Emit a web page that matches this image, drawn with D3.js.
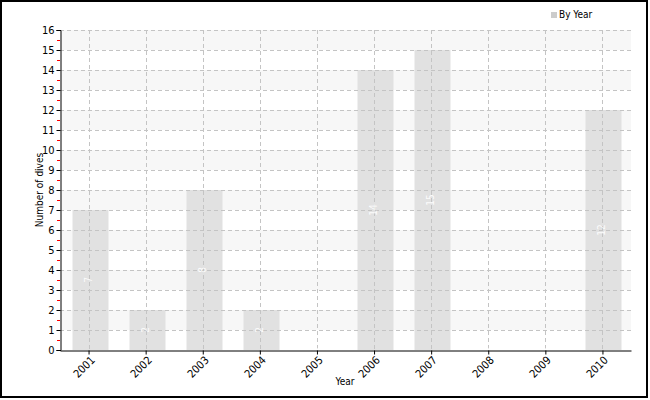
<!DOCTYPE html>
<html><head><meta charset="utf-8">
<script src="https://cdn.jsdelivr.net/npm/d3@7"></script>
<style>body{margin:0;background:#fff;} text{font-family:"DejaVu Sans Condensed","DejaVu Sans",sans-serif;}</style>
</head><body><svg id="c" width="650" height="400"></svg>
<script>
const categories = ["2001","2002","2003","2004","2005","2006","2007","2008","2009","2010"];
const values = [7,2,8,2,0,14,15,0,0,12];
const yTicks = d3.range(0,17);
const seriesName = "By Year";

const svg = d3.select("#c");
const m = {l:60, r:19, t:30, b:50};
const W = 650, H = 400;
const FS = 10;
const x = d3.scaleBand().domain(categories).range([m.l, W-m.r]).padding(0);
const y = d3.scaleLinear().domain([0,16]).range([H-m.b, m.t]);
const cx = d => Math.round(x(d)+x.bandwidth()/2);

svg.append("rect").attr("x",1).attr("y",1).attr("width",646).attr("height",396)
  .attr("fill","#fff").attr("stroke","#000").attr("stroke-width",2);

// alternating bands
const bands = d3.range(1,16,2);
svg.append("g").selectAll("rect").data(bands).join("rect")
  .attr("x", m.l).attr("width", W-m.r-m.l)
  .attr("y", d=>y(d+1)).attr("height", d=>y(d)-y(d+1))
  .attr("fill","#f7f7f7");

// bars
const bw = 36;
svg.append("g").selectAll("rect").data(values).join("rect")
  .attr("x",(d,i)=>cx(categories[i])-bw/2+1.5)
  .attr("width",bw)
  .attr("y",d=>y(d)).attr("height",d=>y(0)-y(d))
  .attr("fill","#e1e1e1");

// grid lines
const grid = svg.append("g").attr("stroke","#c4c4c4").attr("stroke-dasharray","4,3").attr("stroke-width",1);
grid.selectAll("line.h").data(yTicks.filter(d=>d>0)).join("line")
  .attr("x1",m.l).attr("x2",W-m.r)
  .attr("y1",d=>Math.round(y(d))+0.5).attr("y2",d=>Math.round(y(d))+0.5);
grid.selectAll("line.v").data(categories).join("line")
  .attr("x1",d=>cx(d)+0.5).attr("x2",d=>cx(d)+0.5)
  .attr("y1",m.t).attr("y2",H-m.b);

// value labels
svg.append("g").selectAll("text").data(values).join("text")
  .attr("transform",(d,i)=>`translate(${cx(categories[i])+3},${(y(0)+y(d))/2}) rotate(-90)`)
  .attr("text-anchor","middle").attr("font-size",FS).attr("fill","#fff").attr("fill-opacity",0.9)
  .text(d=>d);

// minor red ticks
svg.append("g").selectAll("line").data(d3.range(0.5,16,1)).join("line")
  .attr("x1",m.l-3).attr("x2",m.l)
  .attr("y1",d=>Math.round(y(d))+0.5).attr("y2",d=>Math.round(y(d))+0.5)
  .attr("stroke","red");

// axes
const yAxis = svg.append("g").attr("transform",`translate(${m.l+0.5},0)`)
  .call(d3.axisLeft(y).tickValues(yTicks).tickSize(4).tickPadding(2).tickFormat(d3.format("d")));
yAxis.selectAll("text").attr("font-size",11).attr("fill","#000")
  .style("font-family","'DejaVu Sans Condensed','DejaVu Sans',sans-serif");
yAxis.select(".domain").attr("stroke","#000");

const xAxis = svg.append("g").attr("transform",`translate(0,${H-m.b+0.5})`)
  .call(d3.axisBottom(x).tickSize(4).tickSizeOuter(0).tickFormat(""));
xAxis.selectAll(".tick line").attr("transform","translate(0.5,0)");
xAxis.select(".domain").attr("stroke","#000");

// x tick labels, rotated 45 degrees
const c45 = Math.SQRT1_2;
svg.append("g").selectAll("text").data(categories).join("text")
  .attr("transform",d=>`matrix(${c45},${-c45},${c45},${c45},${cx(d)+4},${H-m.b+8})`)
  .attr("text-anchor","end").attr("dy","0.35em").attr("font-size",11).attr("fill","#000")
  .text(d=>d);

// titles
svg.append("text").attr("x",345).attr("y",385).attr("text-anchor","middle")
  .attr("font-size",FS).text("Year");
svg.append("text").attr("transform",`translate(43,${(m.t+H-m.b)/2}) rotate(-90)`)
  .attr("text-anchor","middle").attr("font-size",FS).text("Number of dives");

// legend
svg.append("rect").attr("x",551).attr("y",12).attr("width",6).attr("height",6).attr("fill","#cccccc");
svg.append("text").attr("x",559).attr("y",18).attr("font-size",FS).text(seriesName);
</script></body></html>
